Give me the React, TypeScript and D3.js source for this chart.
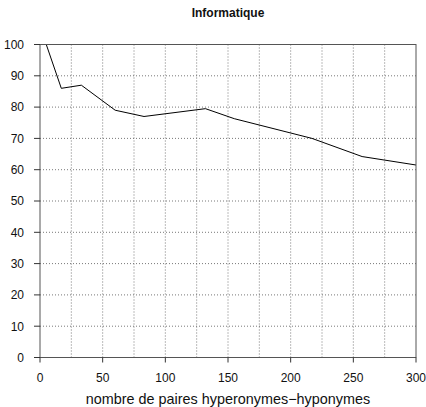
import React from "react";
import * as d3 from "d3";

const pairs = [5, 17, 33, 60, 83, 132, 155, 217, 257, 300];
const precision = [100, 86, 87, 79, 77, 79.5, 76.3, 70, 64.2, 61.5];
const xTicks = [0, 50, 100, 150, 200, 250, 300];
const xGrid = [25, 50, 75, 100, 125, 150, 175, 200, 225, 250, 275];
const yTicks = [0, 10, 20, 30, 40, 50, 60, 70, 80, 90, 100];

const W = 426;
const H = 407;
const m = { left: 40, right: 10, top: 44.5, bottom: 49.5 };

export default function App() {
  const x = d3.scaleLinear().domain([0, 300]).range([m.left, W - m.right]);
  const y = d3.scaleLinear().domain([0, 100]).range([H - m.bottom, m.top]);
  const line = d3
    .line<number>()
    .x((_, i) => x(pairs[i]))
    .y((d) => y(d));
  const font = "'Liberation Sans', Arial, Helvetica, sans-serif";

  return (
    <svg
      width={W}
      height={H}
      style={{ position: "absolute", left: 0, top: 0, background: "#fff" }}
      fontFamily={font}
    >
      <rect width={W} height={H} fill="#fff" />
      <text x={x(150)} y={17} textAnchor="middle" fontSize={12} fontWeight="bold" fill="#111">
        Informatique
      </text>
      {/* grid */}
      {xGrid.map((v) => (
        <line
          key={"gx" + v}
          x1={x(v)}
          x2={x(v)}
          y1={y(0)}
          y2={y(100)}
          stroke="#555"
          strokeWidth={0.8}
          strokeDasharray="1,2"
        />
      ))}
      {yTicks.slice(1, -1).map((v) => (
        <line
          key={"gy" + v}
          x1={x(0)}
          x2={x(300)}
          y1={y(v)}
          y2={y(v)}
          stroke="#555"
          strokeWidth={0.8}
          strokeDasharray="1,2"
        />
      ))}
      {/* data line */}
      <path d={line(precision) ?? ""} fill="none" stroke="#000" strokeWidth={1} />
      {/* frame */}
      <rect
        x={x(0)}
        y={y(100)}
        width={x(300) - x(0)}
        height={y(0) - y(100)}
        fill="none"
        stroke="#555"
        strokeWidth={1}
      />
      {/* y axis */}
      {yTicks.map((v) => (
        <g key={"yt" + v}>
          <line x1={x(0) - 6} x2={x(0)} y1={y(v)} y2={y(v)} stroke="#333" />
          <text x={24} y={y(v) + 4.3} textAnchor="end" fontSize={12} fill="#111">
            {v}
          </text>
        </g>
      ))}
      {/* x axis */}
      {xTicks.map((v) => (
        <g key={"xt" + v}>
          <line x1={x(v)} x2={x(v)} y1={y(0)} y2={y(0) + 5} stroke="#333" />
          <text x={x(v)} y={381.5} textAnchor="middle" fontSize={12} fill="#111">
            {v}
          </text>
        </g>
      ))}
      <text x={x(150)} y={404} textAnchor="middle" fontSize={14.4} fill="#111">
        nombre de paires hyperonymes−hyponymes
      </text>
    </svg>
  );
}
